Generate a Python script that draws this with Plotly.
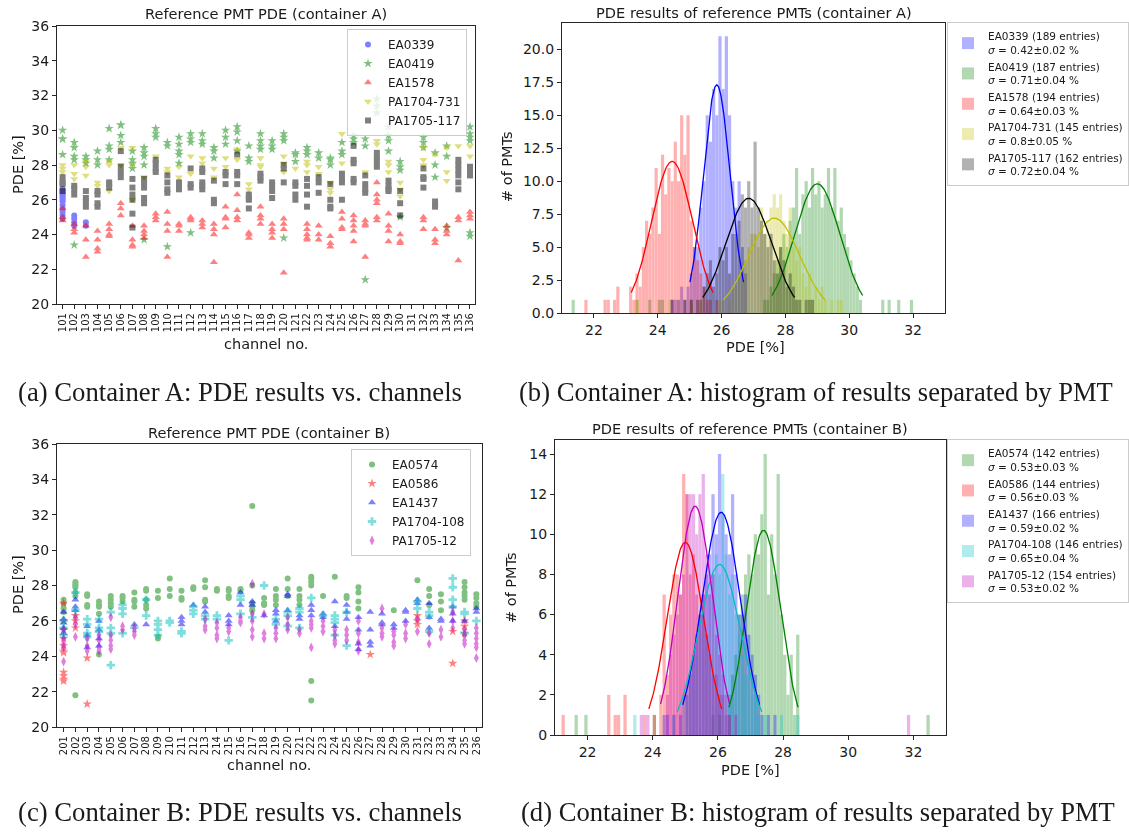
import numpy as np
import plotly.graph_objects as go

W, H = 1129, 834

# ---------------- data: container A (channel -> PDE values) ----------------
chan_A = list(range(101, 137))
chan_B = list(range(201, 237))

A_EA0339 = {101: [24.9, 25.1, 25.3, 25.5, 25.7, 25.9, 26.0, 26.1, 26.2, 26.3, 26.4, 26.5, 26.6],
            102: [25.1, 24.9, 24.7, 24.5], 103: [24.7, 24.5]}
A_EA0419 = {101: [30.0, 29.5, 29.5, 28.6], 102: [29.3, 29.0, 28.5, 28.3, 23.4], 103: [28.5, 28.3, 28.1],
            104: [28.8, 28.3, 28.0], 105: [30.1, 29.1, 28.9, 28.3], 106: [30.3, 30.3, 29.7, 29.3],
            107: [28.8, 28.3, 28.1, 27.8], 108: [29.0, 28.7, 28.5, 28.0, 23.7], 109: [30.1, 29.8, 29.6],
            110: [29.3, 29.1, 23.3], 111: [29.6, 29.2, 28.8, 28.6, 28.1], 112: [29.8, 29.5, 29.3, 24.1],
            113: [29.8, 29.4, 29.2], 114: [29.0, 28.8, 28.4], 115: [30.0, 29.6, 29.2],
            116: [30.2, 29.9, 29.4, 28.8], 117: [29.1, 28.4, 28.2], 118: [29.8, 29.4, 29.1, 28.9],
            119: [29.4, 29.1, 28.9], 120: [29.8, 29.6, 29.4, 23.8], 121: [28.7, 28.6, 28.2],
            122: [29.0, 28.8, 28.6], 123: [28.7, 28.4], 124: [28.4, 28.3, 28.0], 125: [29.3, 28.8, 28.6],
            126: [29.7, 29.5, 29.3], 127: [29.5, 29.1, 21.4], 128: [31.8, 31.4, 31.0],
            129: [30.2, 29.7, 29.4, 28.8], 130: [28.2, 27.9, 27.7, 25.0], 132: [29.6, 29.3, 29.0],
            133: [28.7, 28.0, 27.3], 134: [29.1, 28.5, 24.4], 136: [30.2, 29.8, 29.6, 29.4, 24.1, 23.9]}
A_EA1578 = {101: [25.5, 25.0, 24.8], 102: [24.6, 24.3, 24.1], 103: [24.5, 23.7, 22.7],
            104: [24.2, 23.7, 23.2, 23.0], 105: [24.6, 24.3, 24.0, 23.9], 106: [25.8, 25.5, 25.1],
            107: [24.5, 23.7, 23.4, 23.3], 108: [24.5, 24.2, 24.0, 23.8], 109: [25.2, 25.0, 24.8],
            110: [25.3, 24.6, 24.2, 22.7], 111: [24.6, 24.5, 24.2], 112: [25.0, 24.9, 24.8],
            113: [24.8, 24.6, 24.4], 114: [24.6, 24.3, 24.0, 22.4], 115: [25.6, 25.0, 24.9, 24.4],
            116: [26.3, 25.4, 25.0, 24.8], 117: [24.1, 24.0, 23.8], 118: [25.6, 25.1, 24.9, 24.6],
            119: [24.6, 24.3, 24.1, 23.8], 120: [24.9, 24.6, 24.3, 21.8], 122: [24.6, 24.3, 24.0, 23.8, 23.7],
            123: [24.5, 24.0, 23.7], 124: [23.9, 23.5, 23.3], 125: [25.3, 24.9, 24.4, 24.3],
            126: [25.1, 24.8, 24.5, 24.2, 23.6], 127: [24.8, 24.6, 24.5, 22.7],
            128: [27.0, 26.3, 26.0, 25.8, 25.0, 24.8], 129: [25.2, 24.5, 24.2, 23.6], 130: [24.0, 23.6, 23.5],
            132: [25.0, 24.8, 24.3], 133: [24.3, 23.7, 23.5], 134: [24.5, 24.2, 24.0], 135: [25.0, 24.8, 22.5],
            136: [25.3, 25.1, 24.9]}
A_PA1704_731 = {101: [28.0, 27.8, 27.6], 102: [28.0, 27.5, 27.2], 103: [28.2, 27.9, 27.4], 104: [27.0, 26.8],
                105: [28.2, 28.0, 26.5], 106: [29.0, 28.0], 107: [29.0, 28.0, 26.0], 108: [27.3], 109: [28.5],
                110: [27.8, 27.6], 111: [27.9, 27.3], 112: [28.5, 27.5], 113: [28.4, 28.1], 114: [27.8, 27.3],
                115: [28.4, 27.9], 116: [28.9, 28.3], 117: [26.9, 26.6], 118: [28.4, 28.0, 27.9],
                120: [28.5, 28.1, 27.6], 121: [27.8], 122: [28.2, 28.0, 27.6], 123: [27.9, 27.5],
                124: [27.0, 26.6, 26.4], 125: [29.8, 28.1], 127: [27.6], 128: [29.4, 29.2],
                129: [28.2, 28.0, 27.6], 130: [27.0, 26.6, 26.2], 132: [29.0, 28.3, 28.0], 133: [28.6],
                134: [29.0, 27.6, 27.1], 135: [29.1], 136: [29.1, 28.5]}
A_PA1705_117 = {101: [27.3, 27.0, 26.9, 26.5], 102: [26.8, 26.6, 26.3], 103: [26.5, 26.1, 25.9, 25.6],
                104: [26.5, 26.3, 25.8, 25.6], 105: [27.0, 26.9, 26.7], 106: [28.8, 27.9, 27.6, 27.3],
                107: [27.2, 26.7, 26.3, 26.0, 25.2, 24.4], 108: [27.2, 27.0, 26.7, 26.1, 25.8],
                109: [28.3, 28.1, 27.8, 27.6], 110: [27.4, 27.0, 26.6, 26.4], 111: [27.0, 26.8, 26.6],
                112: [27.8, 26.9, 26.7], 113: [27.8, 27.6, 27.0, 26.8, 26.6], 114: [27.1, 26.0, 25.8],
                115: [27.6, 27.4, 26.9], 116: [28.6, 27.6, 27.4, 26.9], 117: [26.3, 26.1, 26.0, 25.5],
                118: [27.5, 27.3, 27.1], 119: [27.0, 26.8, 26.5, 26.1], 120: [28.0, 27.8, 27.0],
                121: [27.0, 26.8, 26.3, 26.0], 122: [27.2, 26.8, 26.3, 25.6], 123: [27.3, 27.0, 26.4],
                124: [26.9, 26.0, 25.6, 25.5], 125: [27.5, 27.2, 27.0, 26.0], 126: [29.1, 28.3, 28.1, 27.2, 27.0],
                127: [27.4, 26.9, 26.6, 26.4], 128: [28.7, 28.4, 28.2, 27.9], 129: [27.1, 26.8, 26.6, 26.5],
                130: [26.5, 25.8, 25.1], 132: [27.8, 27.3, 27.2, 26.7], 133: [25.9, 25.7, 25.6],
                135: [28.3, 28.0, 27.7, 27.4, 27.0, 26.6], 136: [27.9, 27.7, 27.4]}

# ---------------- data: container B ----------------
B_EA0574 = {201: [27.2, 27.0, 26.7, 26.5], 202: [28.2, 28.1, 28.0, 27.9, 27.6, 27.4, 21.8],
            203: [27.5, 27.4, 26.9, 26.8], 204: [27.1, 26.9, 26.8, 26.4, 24.1], 205: [27.4, 27.2, 27.0, 26.8],
            206: [27.4, 27.3, 27.1], 207: [27.6, 27.2, 27.1, 26.8], 208: [27.8, 27.7, 27.2, 26.9, 26.7],
            209: [27.7, 27.3, 25.1, 25.0], 210: [28.4, 27.8, 27.4], 211: [27.7, 27.3, 27.2], 212: [27.9, 27.8],
            213: [28.3, 27.9, 27.2, 27.1], 214: [27.8, 27.7], 215: [27.8, 27.7, 27.4, 27.3], 216: [27.8, 27.7],
            217: [32.5, 28.0, 27.0, 26.8, 26.6], 218: [27.3, 27.0, 26.9], 219: [27.8, 27.4, 27.2, 26.9],
            220: [28.4, 27.8, 27.4], 221: [27.8, 27.4, 27.2, 26.9], 222: [28.5, 28.4, 28.2, 28.0, 22.6, 21.5],
            223: [27.4], 224: [28.5], 225: [27.4, 27.3], 226: [27.9, 27.6, 27.1, 26.7], 229: [26.6],
            231: [28.3], 232: [27.8, 27.4, 26.9], 233: [27.5, 27.1, 26.6], 235: [28.2, 27.9, 27.6, 27.4, 27.2],
            236: [27.5, 27.3, 27.0, 26.8]}
B_EA0586 = {201: [27.0, 26.0, 25.5, 25.0, 24.6, 24.3, 24.2, 23.1, 22.9, 22.7, 22.6], 202: [26.3, 26.0, 25.6],
            203: [23.9, 21.3], 227: [24.1], 231: [26.3, 26.0, 25.8], 234: [25.4, 23.6], 235: [26.0, 25.7, 25.3]}
B_EA1437 = {201: [26.5, 26.1, 25.9, 25.6, 25.3], 202: [27.2, 26.8, 26.6], 203: [25.7, 25.2, 24.5],
            204: [26.0, 25.5, 25.0, 24.6], 207: [25.8], 208: [25.8], 211: [26.2, 26.0, 25.8], 212: [26.9],
            213: [26.8, 26.5], 215: [26.3, 26.0, 25.8], 216: [27.6, 26.9], 217: [27.1, 26.9], 218: [26.3],
            219: [26.6, 26.4, 26.0], 220: [27.5, 27.4, 26.6], 221: [26.3, 26.1], 222: [26.9, 26.6, 26.3],
            223: [26.4, 26.2], 224: [27.1, 25.7], 225: [26.9, 26.5, 26.1], 226: [26.2, 25.5, 24.7, 24.4],
            227: [26.5, 25.5, 24.8, 24.6], 228: [26.4, 25.9, 25.8], 229: [25.8, 25.6], 230: [26.6, 26.5, 26.0],
            231: [27.2, 27.0], 232: [27.0, 26.2, 25.6], 233: [26.1, 26.0], 234: [26.8, 26.4, 26.0],
            235: [26.0], 236: [26.7, 26.5]}
B_PA1704_108 = {201: [26.0, 25.6, 25.2], 202: [27.6, 26.6], 203: [26.1, 25.8, 25.3, 25.1],
                204: [26.1, 25.6, 25.4], 205: [26.5, 25.6, 25.3, 23.5], 206: [26.9, 26.7, 26.4, 25.3],
                207: [25.6], 208: [27.2, 26.3], 209: [26.0, 25.8, 25.5, 25.2], 210: [26.0, 25.9],
                211: [25.4, 25.3], 212: [26.8, 26.6, 26.4], 213: [26.3, 26.1], 214: [26.3, 26.1], 215: [24.9],
                216: [27.4, 27.2, 26.4], 217: [26.2], 218: [28.0], 219: [26.1, 25.8], 220: [26.5, 26.3, 25.7],
                221: [26.7, 26.5, 25.6], 222: [27.3], 223: [26.3], 224: [26.3, 26.1, 25.9, 25.2],
                225: [26.5, 24.6], 231: [27.1, 26.7], 232: [26.5, 26.3, 25.4], 234: [28.4, 27.9, 27.2, 26.8],
                235: [26.5, 26.4, 25.3], 236: [26.0]}
B_PA1705_12 = {201: [25.5, 25.0, 24.7, 24.5, 23.7], 202: [26.2, 25.8, 25.1], 203: [25.0, 24.6, 24.3],
               204: [25.2, 24.9, 24.5, 24.3], 205: [26.2, 25.2, 24.9, 24.6, 24.4], 206: [25.7, 25.5],
               207: [25.6, 25.4, 25.2], 213: [26.1, 25.7, 25.5], 214: [25.9, 25.6, 25.2, 25.0],
               215: [25.6, 25.4], 216: [26.2, 26.0, 25.9], 217: [28.1, 26.4, 26.0, 25.5, 25.1],
               218: [26.4, 25.3, 25.0], 219: [25.6, 25.3, 25.0], 220: [26.2, 25.8, 25.5], 221: [25.5, 25.3],
               222: [26.0, 25.8, 25.6, 24.5], 223: [26.0, 25.7, 25.4], 224: [25.5, 25.2, 24.9, 24.7],
               225: [25.5, 25.2, 24.9], 226: [26.0, 25.3, 24.8, 24.3], 228: [26.7, 25.6, 25.3, 25.1],
               229: [25.4, 25.2, 24.8, 24.6], 230: [25.8, 25.3, 25.0], 231: [26.1, 25.4], 232: [25.3, 24.7],
               233: [25.5, 25.1], 234: [26.5, 26.0, 25.6], 235: [25.5, 25.2, 24.9, 24.7],
               236: [25.6, 25.3, 25.0, 24.7, 24.5, 23.9]}

# ---------------- histograms (bin lower edge, counts), bin width 0.1 ----------------
BIN = 0.1
hA_EA0339_x = [24.4, 24.5, 24.7, 24.8, 24.9, 25.0, 25.1, 25.2, 25.3, 25.4, 25.5, 25.6, 25.7, 25.8, 25.9, 26.0, 26.1, 26.2, 26.3, 26.4, 26.5, 26.6, 26.7]
hA_EA0339_n = [1, 1, 2, 1, 2, 3, 5, 5, 8, 10, 15, 13, 17, 15, 21, 17, 21, 15, 10, 8, 10, 5, 3]
hA_EA0419_x = [21.3, 23.3, 23.7, 24.0, 24.1, 25.0, 27.3, 27.4, 27.5, 27.6, 27.7, 27.8, 27.9, 28.0, 28.1, 28.2, 28.3, 28.4, 28.5, 28.6, 28.7, 28.8, 28.9, 29.0, 29.1, 29.2, 29.3, 29.4, 29.5, 29.6, 29.7, 29.8, 29.9, 30.0, 30.1, 30.2, 30.3, 31.0, 31.2, 31.5, 31.9]
hA_EA0419_n = [1, 1, 1, 1, 1, 1, 1, 1, 2, 3, 4, 5, 6, 5, 7, 8, 11, 6, 9, 10, 8, 11, 9, 10, 8, 9, 11, 8, 11, 7, 8, 6, 5, 4, 3, 2, 1, 1, 1, 1, 1]
hA_EA1578_x = [21.7, 22.3, 22.4, 22.6, 22.7, 23.1, 23.2, 23.3, 23.4, 23.5, 23.6, 23.7, 23.8, 23.9, 24.0, 24.1, 24.2, 24.3, 24.4, 24.5, 24.6, 24.7, 24.8, 24.9, 25.0, 25.1, 25.2, 25.3, 25.4, 25.5, 25.6, 25.8]
hA_EA1578_n = [1, 1, 1, 1, 2, 2, 1, 3, 2, 5, 7, 6, 8, 11, 6, 12, 9, 11, 10, 13, 10, 15, 12, 15, 7, 5, 4, 3, 2, 1, 1, 1]
hA_PA1704_731_x = [23.3, 24.3, 25.3, 25.9, 26.0, 26.2, 26.3, 26.4, 26.5, 26.6, 26.7, 26.8, 26.9, 27.0, 27.1, 27.2, 27.3, 27.4, 27.5, 27.6, 27.7, 27.8, 27.9, 28.0, 28.1, 28.2, 28.3, 28.4, 28.5, 28.6, 28.7, 28.8, 28.9, 29.0, 29.1, 29.2, 29.4, 29.6, 29.7]
hA_PA1704_731_n = [1, 1, 1, 1, 1, 1, 2, 2, 3, 3, 4, 5, 6, 6, 5, 8, 6, 7, 8, 9, 8, 9, 7, 6, 8, 5, 4, 5, 3, 2, 3, 1, 2, 1, 2, 1, 1, 1, 1]
hA_PA1705_117_x = [24.4, 24.6, 24.8, 25.0, 25.2, 25.3, 25.4, 25.5, 25.6, 25.7, 25.8, 25.9, 26.0, 26.1, 26.2, 26.3, 26.4, 26.5, 26.6, 26.7, 26.8, 26.9, 27.0, 27.1, 27.2, 27.3, 27.4, 27.5, 27.6, 27.7, 27.8, 27.9, 28.0, 28.1, 28.2, 28.3, 28.4, 28.6, 28.7, 28.8]
hA_PA1705_117_n = [1, 1, 1, 1, 1, 1, 2, 3, 4, 2, 3, 5, 4, 5, 3, 6, 6, 7, 9, 8, 10, 8, 13, 8, 7, 6, 5, 6, 4, 3, 5, 4, 2, 3, 2, 1, 1, 1, 1, 1]

hB_EA0574_x = [21.6, 21.9, 24.0, 25.8, 26.0, 26.3, 26.4, 26.5, 26.6, 26.7, 26.8, 26.9, 27.0, 27.1, 27.2, 27.3, 27.4, 27.5, 27.6, 27.7, 27.8, 27.9, 28.0, 28.1, 28.2, 28.3, 28.4, 32.4]
hB_EA0574_n = [1, 1, 1, 1, 1, 2, 3, 4, 6, 7, 8, 9, 8, 10, 9, 11, 14, 7, 10, 8, 13, 6, 4, 2, 4, 1, 5, 1]
hB_EA0586_x = [21.2, 22.6, 22.8, 22.9, 23.1, 23.7, 24.0, 24.2, 24.3, 24.4, 24.5, 24.6, 24.7, 24.8, 24.9, 25.0, 25.1, 25.2, 25.3, 25.4, 25.5, 25.6, 25.7, 25.8, 25.9, 26.0, 26.1, 26.2, 26.3]
hB_EA0586_n = [1, 2, 1, 1, 2, 1, 1, 2, 7, 3, 6, 8, 8, 7, 13, 12, 8, 9, 7, 6, 7, 5, 4, 3, 3, 2, 2, 1, 1]
hB_EA1437_x = [24.4, 24.6, 24.8, 25.0, 25.1, 25.2, 25.3, 25.4, 25.5, 25.6, 25.7, 25.8, 25.9, 26.0, 26.1, 26.2, 26.3, 26.4, 26.5, 26.6, 26.7, 26.8, 26.9, 27.0, 27.1, 27.2, 27.3, 27.5, 27.7]
hB_EA1437_n = [1, 1, 1, 2, 3, 4, 5, 6, 7, 8, 9, 12, 10, 14, 11, 10, 9, 12, 8, 6, 6, 7, 5, 4, 3, 2, 1, 1, 1]
hB_PA1704_108_x = [23.4, 24.3, 24.6, 24.9, 25.0, 25.1, 25.2, 25.3, 25.4, 25.5, 25.6, 25.7, 25.8, 25.9, 26.0, 26.1, 26.2, 26.3, 26.4, 26.5, 26.6, 26.7, 26.8, 26.9, 27.0, 27.1, 27.2, 27.4, 27.9, 28.4]
hB_PA1704_108_n = [1, 1, 1, 2, 2, 3, 4, 4, 5, 6, 5, 7, 8, 9, 8, 13, 9, 7, 8, 6, 5, 4, 3, 3, 2, 2, 1, 1, 1, 1]
hB_PA1705_12_x = [23.6, 23.8, 24.3, 24.4, 24.5, 24.6, 24.7, 24.8, 24.9, 25.0, 25.1, 25.2, 25.3, 25.4, 25.5, 25.6, 25.7, 25.8, 25.9, 26.0, 26.1, 26.2, 26.3, 26.5, 31.8]
hB_PA1705_12_n = [1, 1, 1, 2, 4, 5, 6, 7, 8, 12, 12, 12, 10, 12, 13, 9, 7, 8, 5, 4, 3, 2, 1, 1, 1]

# Gaussian fit results: (mean, sigma, amplitude)
fitA = {"EA0339": (25.85, 0.42, 17.3), "EA0419": (29.0, 0.71, 9.8), "EA1578": (24.45, 0.64, 11.5),
        "PA1704-731": (27.65, 0.80, 7.2), "PA1705-117": (26.85, 0.72, 8.7)}
fitB = {"EA0574": (27.4, 0.53, 10.2), "EA0586": (25.0, 0.56, 9.6), "EA1437": (26.1, 0.59, 11.1),
        "PA1704-108": (26.05, 0.65, 8.5), "PA1705-12": (25.3, 0.53, 11.4)}
labA = {"EA0339": ("189", "0.42±0.02"), "EA0419": ("187", "0.71±0.04"), "EA1578": ("194", "0.64±0.03"),
        "PA1704-731": ("145", "0.8±0.05"), "PA1705-117": ("162", "0.72±0.04")}
labB = {"EA0574": ("142", "0.53±0.03"), "EA0586": ("144", "0.56±0.03"), "EA1437": ("166", "0.59±0.02"),
        "PA1704-108": ("146", "0.65±0.04"), "PA1705-12": ("154", "0.53±0.02")}

# ---------------- styles ----------------
COL = {"b": "rgb(0,0,255)", "g": "rgb(0,128,0)", "r": "rgb(255,0,0)", "y": "rgb(191,191,0)",
       "k": "rgb(0,0,0)", "c": "rgb(0,191,191)", "m": "rgb(191,0,191)"}
FONT = "DejaVu Sans"
TXT = "#1a1a1a"


def dx(l, r):
    return [l / W, r / W]


def dy(t, b):
    return [1 - b / H, 1 - t / H]


fig = go.Figure()


def scatter_series(data, chans, name, color, symbol, size, xa, ya, legend):
    xs, ys = [], []
    for i, c in enumerate(chans):
        for v in data.get(c, []):
            xs.append(i)
            ys.append(v)
    fig.add_trace(go.Scatter(x=xs, y=ys, mode="markers", name=name, xaxis=xa, yaxis=ya, legend=legend,
                             opacity=0.5,
                             marker=dict(color=color, symbol=symbol, size=size, line=dict(width=0))))


sA = [(A_EA0339, "EA0339", COL["b"], "circle", 6),
      (A_EA0419, "EA0419", COL["g"], "star", 7),
      (A_EA1578, "EA1578", COL["r"], "triangle-up", 7),
      (A_PA1704_731, "PA1704-731", COL["y"], "triangle-down", 7),
      (A_PA1705_117, "PA1705-117", COL["k"], "square", 6)]
for d, n, c, s, z in sA:
    scatter_series(d, chan_A, n, c, s, z, "x", "y", "legend")

sB = [(B_EA0574, "EA0574", COL["g"], "circle", 6),
      (B_EA0586, "EA0586", COL["r"], "star", 7),
      (B_EA1437, "EA1437", COL["b"], "triangle-up", 7),
      (B_PA1704_108, "PA1704-108", COL["c"], "cross", 7),
      (B_PA1705_12, "PA1705-12", COL["m"], "diamond-tall", 7)]
for d, n, c, s, z in sB:
    scatter_series(d, chan_B, n, c, s, z, "x3", "y3", "legend3")


def hist_series(xs, ns, name, color, lab, xa, ya, legend):
    fig.add_trace(go.Bar(x=xs, y=ns, width=BIN, offset=0,
                         name=f"{name} ({lab[0]} entries)<br><i>σ</i> = {lab[1]} %",
                         marker=dict(color=color, line=dict(width=0)), opacity=0.3,
                         xaxis=xa, yaxis=ya, legend=legend))


def fit_curve(color, fit, xa, ya):
    mu, sg, amp = fit
    xx = np.linspace(mu - 2 * sg, mu + 2 * sg, 120)
    yy = amp * np.exp(-(xx - mu) ** 2 / (2 * sg ** 2))
    fig.add_trace(go.Scatter(x=xx, y=yy, mode="lines", line=dict(color=color, width=1.3),
                             showlegend=False, xaxis=xa, yaxis=ya, hoverinfo="skip"))


hA = [(hA_EA0339_x, hA_EA0339_n, "EA0339", COL["b"]),
      (hA_EA0419_x, hA_EA0419_n, "EA0419", COL["g"]),
      (hA_EA1578_x, hA_EA1578_n, "EA1578", COL["r"]),
      (hA_PA1704_731_x, hA_PA1704_731_n, "PA1704-731", COL["y"]),
      (hA_PA1705_117_x, hA_PA1705_117_n, "PA1705-117", COL["k"])]
for x_, n_, nm, c in hA:
    hist_series(x_, n_, nm, c, labA[nm], "x2", "y2", "legend2")
for x_, n_, nm, c in hA:
    fit_curve(c, fitA[nm], "x2", "y2")

hB = [(hB_EA0574_x, hB_EA0574_n, "EA0574", COL["g"]),
      (hB_EA0586_x, hB_EA0586_n, "EA0586", COL["r"]),
      (hB_EA1437_x, hB_EA1437_n, "EA1437", COL["b"]),
      (hB_PA1704_108_x, hB_PA1704_108_n, "PA1704-108", COL["c"]),
      (hB_PA1705_12_x, hB_PA1705_12_n, "PA1705-12", COL["m"])]
for x_, n_, nm, c in hB:
    hist_series(x_, n_, nm, c, labB[nm], "x4", "y4", "legend4")
for x_, n_, nm, c in hB:
    fit_curve(c, fitB[nm], "x4", "y4")


def axstyle(**kw):
    d = dict(showline=True, mirror=True, linecolor="#262626", linewidth=1.2, ticks="outside", ticklen=4,
             tickcolor="#262626", showgrid=False, zeroline=False, automargin=False,
             tickfont=dict(family=FONT, size=14, color=TXT))
    d.update(kw)
    return d


chanA_txt = [str(c) for c in chan_A]
chanB_txt = [str(c) for c in chan_B]
tick_small = dict(family=FONT, size=10, color=TXT)

leg_common = dict(yanchor="top", bgcolor="rgba(255,255,255,0.8)",
                  bordercolor="#cccccc", borderwidth=1)

fig.update_layout(
    template="none",
    width=W, height=H, margin=dict(l=0, r=0, t=0, b=0, autoexpand=False),
    paper_bgcolor="white", plot_bgcolor="white", barmode="overlay", showlegend=True,
    font=dict(family=FONT, color=TXT),
    xaxis=axstyle(domain=dx(57, 475), anchor="y", range=[-0.48, 35.43], tickmode="array",
                  tickvals=list(range(36)), ticktext=chanA_txt, tickangle=-90, tickfont=tick_small),
    yaxis=axstyle(domain=dy(26, 304), anchor="x", range=[20, 36], dtick=2, tick0=20),
    xaxis2=axstyle(domain=dx(562, 945), anchor="y2", range=[21, 33], dtick=2, tick0=22),
    yaxis2=axstyle(domain=dy(23, 313), anchor="x2", range=[0, 22.0], dtick=2.5, tickformat=".1f"),
    xaxis3=axstyle(domain=dx(57, 482), anchor="y3", range=[-0.56, 35.48], tickmode="array",
                   tickvals=list(range(36)), ticktext=chanB_txt, tickangle=-90, tickfont=tick_small),
    yaxis3=axstyle(domain=dy(444, 727), anchor="x3", range=[20, 36], dtick=2, tick0=20),
    xaxis4=axstyle(domain=dx(555, 946), anchor="y4", range=[21, 33], dtick=2, tick0=22),
    yaxis4=axstyle(domain=dy(440, 735), anchor="x4", range=[0, 14.7], dtick=2),
    legend=dict(x=347 / W, y=1 - 29 / H, xanchor="left",
                font=dict(family=FONT, size=12, color=TXT), **leg_common),
    legend3=dict(x=351 / W, y=1 - 449 / H, xanchor="left",
                 font=dict(family=FONT, size=12, color=TXT), **leg_common),
    legend2=dict(x=1.0, y=1 - 22 / H, xanchor="right",
                 font=dict(family=FONT, size=10.5, color=TXT), **leg_common),
    legend4=dict(x=1.0, y=1 - 439 / H, xanchor="right",
                 font=dict(family=FONT, size=10.5, color=TXT), **leg_common),
)

ann = []


def text(x, y, s, size, angle=0, family=FONT):
    ann.append(dict(x=x / W, y=1 - y / H, xref="paper", yref="paper", text=s, showarrow=False,
                    xanchor="center", yanchor="middle", textangle=angle,
                    font=dict(family=family, size=size, color=TXT)))


# titles
text(266, 13, "Reference PMT PDE (container A)", 14.6)
text(754, 12, "PDE results of reference PMTs (container A)", 14.6)
text(269, 432, "Reference PMT PDE (container B)", 14.6)
text(750, 428, "PDE results of reference PMTs (container B)", 14.6)
# axis labels
text(18, 165, "PDE [%]", 14.5, -90)
text(266, 344, "channel no.", 14.5)
text(18, 585, "PDE [%]", 14.5, -90)
text(269, 765, "channel no.", 14.5)
text(507, 167, "# of PMTs", 14.5, -90)
text(755, 347, "PDE [%]", 14.5)
text(511, 588, "# of PMTs", 14.5, -90)
text(751, 770, "PDE [%]", 14.5)
# captions
SERIF = "Liberation Serif"
text(240, 392, "(a) Container A: PDE results vs. channels", 26.7, family=SERIF)
text(816, 392, "(b) Container A: histogram of results separated by PMT", 26.6, family=SERIF)
text(240, 812, "(c) Container B: PDE results vs. channels", 26.7, family=SERIF)
text(818, 812, "(d) Container B: histogram of results separated by PMT", 26.6, family=SERIF)

fig.update_layout(annotations=ann)
fig.write_html("out.html", config={"displayModeBar": False},
               post_script="document.body.style.margin='0';document.documentElement.style.overflow='hidden';")
